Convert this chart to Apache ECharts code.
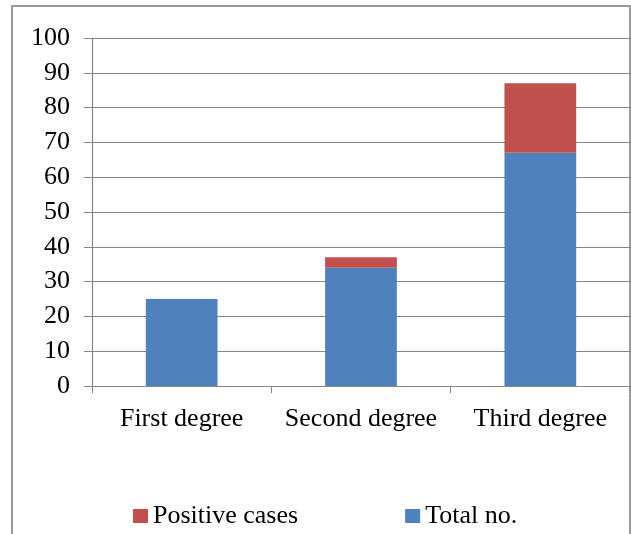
<!DOCTYPE html>
<html>
<head>
<meta charset="utf-8">
<script src="https://cdn.jsdelivr.net/npm/echarts@6/dist/echarts.min.js"></script>
<style>
  html, body { margin: 0; padding: 0; background: #fff; }
  #chart { width: 631px; height: 534px; }
</style>
</head>
<body>
<div id="chart"></div>
<script>
// Burn degree categories and case counts
const categories = ['First degree', 'Second degree', 'Third degree'];
const totalNo = [25, 34, 67];
const positiveCases = [0, 3, 20];
const yTicks = { min: 0, max: 100, step: 10 };

const FONT = "'Liberation Serif', 'Times New Roman', serif";
const GRID_GRAY = '#868686';

const chart = echarts.init(document.getElementById('chart'), null, { renderer: 'canvas' });

chart.setOption({
  animation: false,
  backgroundColor: '#ffffff',
  textStyle: { fontFamily: FONT, color: '#000' },
  graphic: [{
    type: 'rect',
    shape: { x: 12, y: 6, width: 618, height: 560 },
    style: { fill: 'none', stroke: '#9a9a9a', lineWidth: 2 },
    silent: true,
    z: -1
  }],
  grid: { left: 92, right: 1, top: 38, bottom: 148, containLabel: false },
  legend: {
    data: ['Positive cases', 'Total no.'],
    left: 128,
    top: 497,
    itemWidth: 15,
    itemHeight: 14,
    itemGap: 107,
    icon: 'rect',
    textStyle: { fontFamily: FONT, fontSize: 26, color: '#000', lineHeight: 28 }
  },
  xAxis: {
    type: 'category',
    data: categories,
    axisLine: { lineStyle: { color: GRID_GRAY, width: 1.2 } },
    axisTick: { show: true, alignWithLabel: false, length: 7, lineStyle: { color: GRID_GRAY } },
    axisLabel: { fontFamily: FONT, fontSize: 26, color: '#000', margin: 20, interval: 0 }
  },
  yAxis: {
    type: 'value',
    min: yTicks.min,
    max: yTicks.max,
    interval: yTicks.step,
    axisLine: { show: true, lineStyle: { color: GRID_GRAY, width: 1.2 } },
    axisTick: { show: true, length: 8, lineStyle: { color: GRID_GRAY } },
    axisLabel: { fontFamily: FONT, fontSize: 26, color: '#000', margin: 22 },
    splitLine: { show: true, lineStyle: { color: GRID_GRAY, width: 1.2 } }
  },
  series: [
    {
      name: 'Total no.',
      type: 'bar',
      stack: 'cases',
      data: totalNo,
      barWidth: '40%',
      itemStyle: { color: '#4F81BD' }
    },
    {
      name: 'Positive cases',
      type: 'bar',
      stack: 'cases',
      data: positiveCases,
      barWidth: '40%',
      itemStyle: { color: '#C0504D' }
    }
  ]
});
</script>
</body>
</html>
